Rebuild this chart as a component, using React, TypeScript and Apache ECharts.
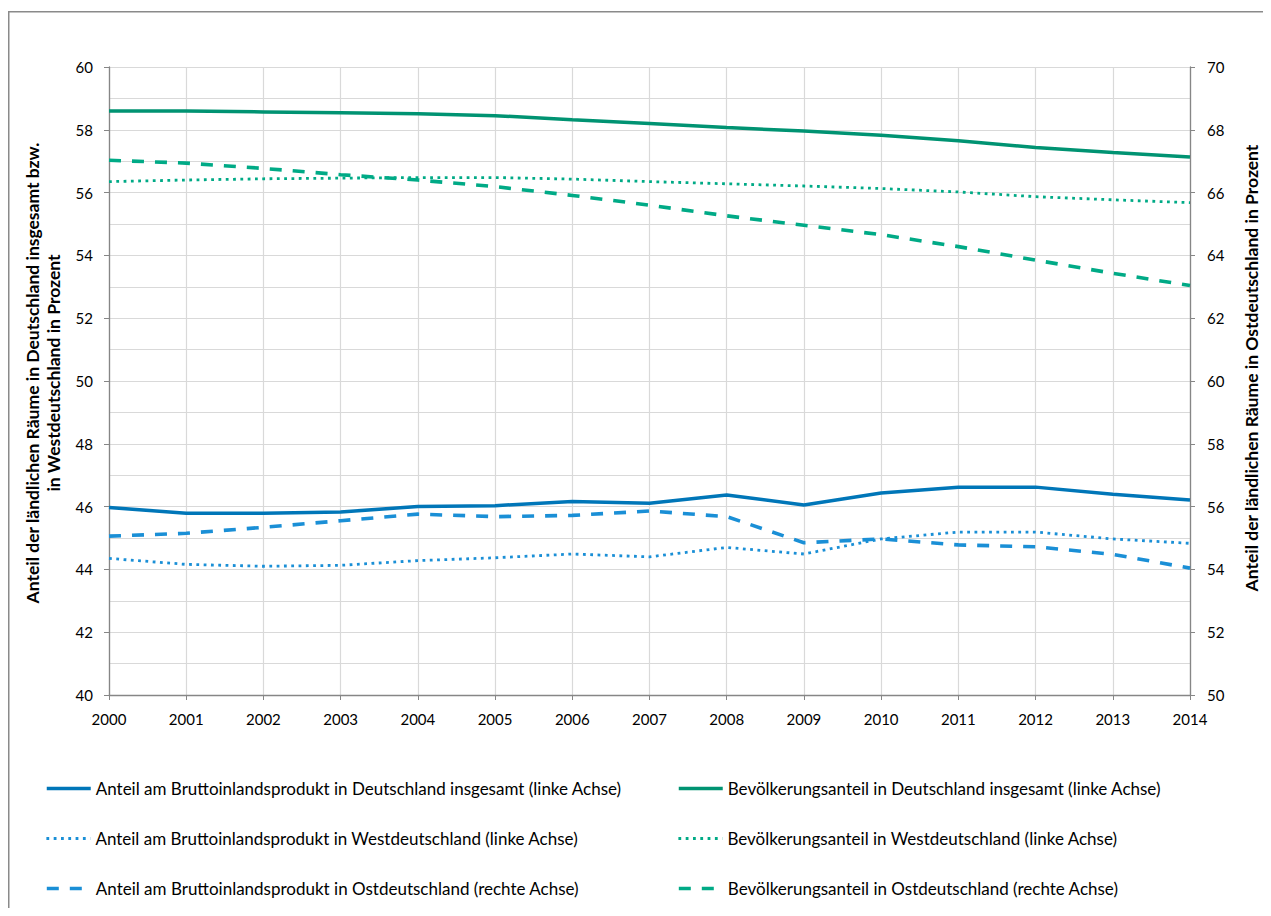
import React, { useEffect, useRef } from "react";
import * as echarts from "echarts";

const years = ["2000", "2001", "2002", "2003", "2004", "2005", "2006", "2007", "2008", "2009", "2010", "2011", "2012", "2013", "2014"];

const bipDeutschland = [45.97, 45.79, 45.79, 45.83, 46.0, 46.03, 46.16, 46.11, 46.37, 46.05, 46.43, 46.62, 46.62, 46.39, 46.21];
const bipWest = [44.35, 44.16, 44.1, 44.13, 44.28, 44.37, 44.49, 44.4, 44.7, 44.49, 44.97, 45.19, 45.19, 44.97, 44.83];
const bipOst = [55.06, 55.15, 55.34, 55.55, 55.76, 55.68, 55.72, 55.86, 55.68, 54.85, 54.97, 54.78, 54.72, 54.48, 54.04];
const bevDeutschland = [58.6, 58.6, 58.57, 58.54, 58.51, 58.45, 58.32, 58.2, 58.07, 57.96, 57.83, 57.65, 57.44, 57.28, 57.13];
const bevWest = [56.35, 56.4, 56.44, 56.46, 56.48, 56.48, 56.43, 56.35, 56.28, 56.21, 56.13, 56.02, 55.87, 55.77, 55.68];
const bevOst = [67.03, 66.94, 66.77, 66.57, 66.4, 66.19, 65.91, 65.6, 65.26, 64.96, 64.66, 64.28, 63.85, 63.43, 63.04];

const names = [
  "Anteil am Bruttoinlandsprodukt in Deutschland insgesamt (linke Achse)",
  "Bevölkerungsanteil in Deutschland insgesamt (linke Achse)",
  "Anteil am Bruttoinlandsprodukt in Westdeutschland (linke Achse)",
  "Bevölkerungsanteil in Westdeutschland (linke Achse)",
  "Anteil am Bruttoinlandsprodukt in Ostdeutschland (rechte Achse)",
  "Bevölkerungsanteil in Ostdeutschland (rechte Achse)",
];

const leftAxisName = "Anteil der ländlichen Räume in Deutschland insgesamt bzw.\nin Westdeutschland in Prozent";
const rightAxisName = "Anteil der ländlichen Räume in Ostdeutschland in Prozent";

const FONT = "Lato";
const BLUE_DARK = "#0076B8";
const BLUE_LIGHT = "#1A8FD6";
const GREEN_DARK = "#009372";
const GREEN_LIGHT = "#00AA86";

export default function App() {
  const ref = useRef<HTMLDivElement>(null);
  useEffect(() => {
    if (!ref.current) return;
    const chart = echarts.init(ref.current, undefined, { renderer: "svg" });
    const solid = { width: 3.5, type: "solid" as any };
    const dotted = { width: 2.8, type: [2.8, 4.5] as any, cap: "butt" as any };
    const dashed = { width: 3.6, type: [12, 11] as any, cap: "butt" as any };
    const styles = [solid, solid, dotted, dotted, dashed, dashed];
    const mk = (name: string, data: number[], color: string, ls: any, yAxisIndex: number) => ({
      name,
      type: "line",
      data,
      yAxisIndex,
      symbol: "none",
      showSymbol: false,
      color,
      lineStyle: { color, ...ls },
      emphasis: { disabled: true },
    });
    const legendPos = [
      [37, 772],
      [669, 772],
      [37, 822],
      [669, 822],
      [37, 872],
      [669, 872],
    ];
    const legends = names.map((n, i) => ({
      data: [n],
      left: legendPos[i][0],
      top: legendPos[i][1],
      itemWidth: 44,
      itemHeight: 14,
      padding: 0,
      selectedMode: false,
      itemStyle: { opacity: 0 },
      lineStyle: { width: styles[i].width, type: styles[i].type },
      textStyle: { fontFamily: FONT, fontSize: 17, color: "#000" },
    }));
    const axisLabelStyle = { fontFamily: FONT, fontSize: 15, color: "#000" };
    chart.setOption({
      animation: false,
      backgroundColor: "#fff",
      textStyle: { fontFamily: FONT },
      grid: { left: 101, right: 73, top: 59, bottom: 213, containLabel: false },
      legend: legends,
      xAxis: {
        type: "category",
        data: years,
        boundaryGap: false,
        axisLine: { lineStyle: { color: "#868686", width: 1.3 } },
        axisTick: { show: true, length: 5, lineStyle: { color: "#868686" }, interval: 0 },
        axisLabel: { ...axisLabelStyle, margin: 16, interval: 0 },
        splitLine: { show: true, interval: 0, lineStyle: { color: "#d9d9d9", width: 1.2 } },
      },
      yAxis: [
        {
          type: "value",
          min: 40,
          max: 60,
          interval: 2,
          axisLine: { show: true, lineStyle: { color: "#868686", width: 1.3 } },
          axisTick: { show: true, length: 5, lineStyle: { color: "#868686" } },
          axisLabel: { ...axisLabelStyle, margin: 16 },
          splitLine: { show: true, lineStyle: { color: "#d9d9d9", width: 1.2 } },
          minorTick: { show: false, splitNumber: 2 },
          minorSplitLine: { show: true, lineStyle: { color: "#d9d9d9", width: 1.2 } },
        },
        {
          type: "value",
          min: 50,
          max: 70,
          interval: 2,
          position: "right",
          axisLine: { show: true, lineStyle: { color: "#868686", width: 1.3 } },
          axisTick: { show: true, length: 5, lineStyle: { color: "#868686" } },
          axisLabel: { ...axisLabelStyle, margin: 17 },
          splitLine: { show: false },
        },
      ],
      series: [
        mk(names[3], bevWest, GREEN_LIGHT, dotted, 0),
        mk(names[5], bevOst, GREEN_LIGHT, dashed, 1),
        mk(names[1], bevDeutschland, GREEN_DARK, solid, 0),
        mk(names[2], bipWest, BLUE_LIGHT, dotted, 0),
        mk(names[4], bipOst, BLUE_LIGHT, dashed, 1),
        mk(names[0], bipDeutschland, BLUE_DARK, solid, 0),
      ],
      graphic: [
        {
          type: "rect",
          silent: true,
          shape: { x: 0.75, y: 3.75, width: 1400, height: 1200 },
          style: { fill: "none", stroke: "#8a8a8a", lineWidth: 1.5 },
          z: 100,
        },
        {
          type: "text",
          silent: true,
          x: 35,
          y: 365,
          rotation: Math.PI / 2,
          style: {
            text: leftAxisName,
            fontFamily: FONT,
            fontSize: 17.5,
            fontWeight: "bold",
            fill: "#000",
            align: "center",
            verticalAlign: "middle",
            lineHeight: 21,
          },
        },
        {
          type: "text",
          silent: true,
          x: 1243,
          y: 360,
          rotation: Math.PI / 2,
          style: {
            text: rightAxisName,
            fontFamily: FONT,
            fontSize: 17.5,
            fontWeight: "bold",
            fill: "#000",
            align: "center",
            verticalAlign: "middle",
          },
        },
      ],
    });
    return () => chart.dispose();
  }, []);
  return <div ref={ref} style={{ width: 1255, height: 900 }} />;
}
